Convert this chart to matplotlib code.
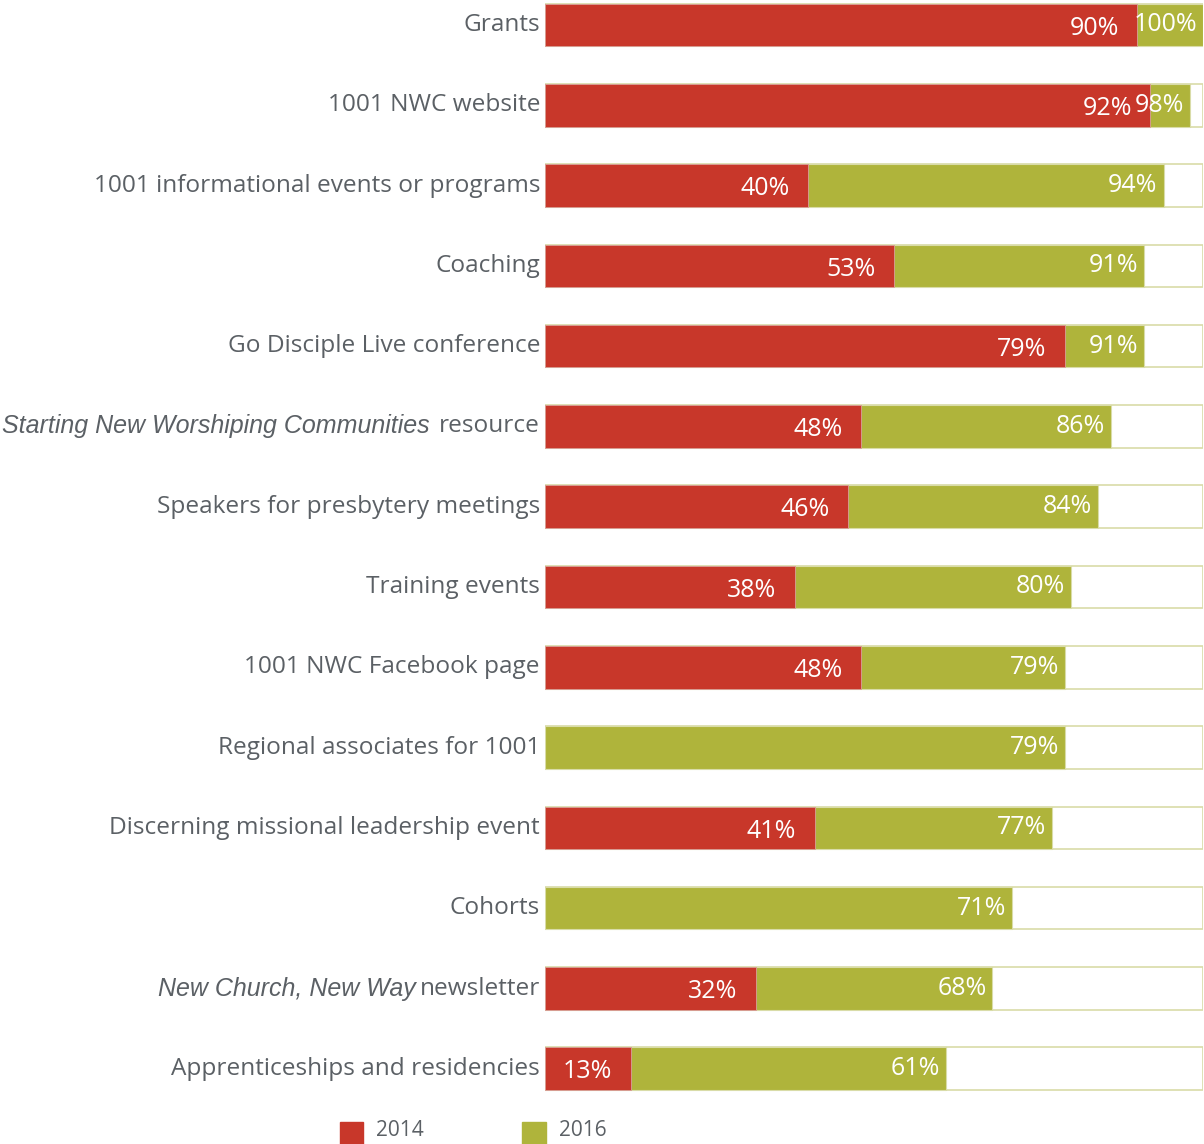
import numpy as np
import matplotlib.pyplot as plt
from matplotlib.patches import Rectangle

# rows, top to bottom
italic_parts = ["", "", "", "", "", "Starting New Worshiping Communities", "", "", "", "", "", "",
                "New Church, New Way", ""]
plain_parts = ["Grants", "1001 NWC website", "1001 informational events or programs", "Coaching",
               "Go Disciple Live conference", "resource", "Speakers for presbytery meetings",
               "Training events", "1001 NWC Facebook page", "Regional associates for 1001",
               "Discerning missional leadership event", "Cohorts", "newsletter",
               "Apprenticeships and residencies"]
pct_2014 = [90, 92, 40, 53, 79, 48, 46, 38, 48, np.nan, 41, np.nan, 32, 13]
pct_2016 = [100, 98, 94, 91, 91, 86, 84, 80, 79, 79, 77, 71, 68, 61]

RED = "#C8372A"
GREEN = "#AFB43B"
EDGE = "#D9DCA8"
TXT = "#5b6065"

fig = plt.figure(figsize=(12.04, 11.44), dpi=100)
ax = fig.add_axes([545 / 1204, 44 / 1144, 658 / 1204, 1100 / 1144])
ax.set_xlim(0, 100)
ax.set_ylim(13.39, -0.311)
ax.axis("off")

y = np.arange(len(plain_parts))
h = 0.53
ax.barh(y, [100] * len(y), height=h, color="white", edgecolor=EDGE, linewidth=1.2, zorder=1)
ax.barh(y, pct_2016, height=h, color=GREEN, edgecolor=EDGE, linewidth=0.8, zorder=2)
ax.barh(y, pct_2014, height=h, color=RED, edgecolor="#d9a09a", linewidth=0.6, zorder=3)

for i in y:
    ax.text(pct_2016[i] - 0.9, i, f"{pct_2016[i]}%", ha="right", va="center",
            color="white", fontsize=18, family="Open Sans", zorder=5)
    if not np.isnan(pct_2014[i]):
        ax.text(pct_2014[i] - 2.8, i + 0.04, f"{int(pct_2014[i])}%", ha="right", va="center",
                color="white", fontsize=18, family="Open Sans", zorder=5)

fig.canvas.draw()
renderer = fig.canvas.get_renderer()
label_x = 540 / 1204
for i in y:
    yy = (1144 - (25 + i * 80.3)) / 1144
    t = fig.text(label_x, yy, plain_parts[i], ha="right", va="center", color=TXT,
                 fontsize=17.6, family="Open Sans")
    if italic_parts[i]:
        bb = t.get_window_extent(renderer)
        gap = 10 if i == 5 else 4
        fig.text((bb.x0 - gap) / 1204, yy, italic_parts[i], ha="right", va="center",
                 color=TXT, fontsize=18, family="Liberation Sans", style="italic")

# legend
fig.patches.append(Rectangle((340 / 1204, 0), 23 / 1204, 22 / 1144, color=RED,
                             transform=fig.transFigure, figure=fig))
fig.patches.append(Rectangle((522 / 1204, 0), 24 / 1204, 22 / 1144, color=GREEN,
                             transform=fig.transFigure, figure=fig))
fig.text(376 / 1204, 13 / 1144, "2014", ha="left", va="center", color=TXT, fontsize=15,
         family="Open Sans")
fig.text(559 / 1204, 13 / 1144, "2016", ha="left", va="center", color=TXT, fontsize=15,
         family="Open Sans")

fig.savefig("out.png", dpi=100, facecolor="white")
